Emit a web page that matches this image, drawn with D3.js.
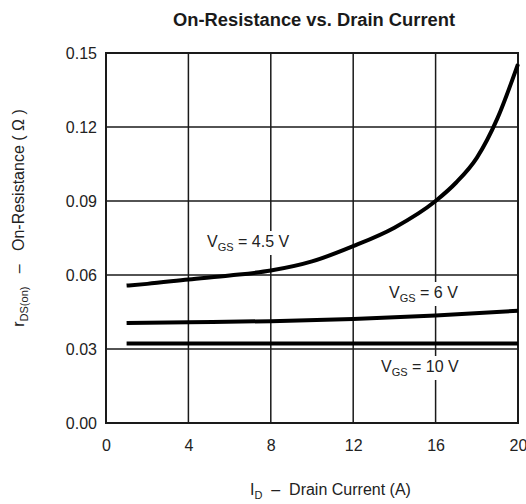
<!DOCTYPE html>
<html>
<head>
<meta charset="utf-8">
<script src="https://cdn.jsdelivr.net/npm/d3@7"></script>
<style>
  html, body { margin: 0; padding: 0; background: #fff; }
  svg { display: block; }
  text { font-family: "Liberation Sans", Arial, sans-serif; fill: #222; white-space: pre; }
</style>
</head>
<body>
<svg id="chart" width="526" height="504"></svg>
<script>
// ---- data ----
const xTicks = [0, 4, 8, 12, 16, 20];
const yTicks = [0.00, 0.03, 0.06, 0.09, 0.12, 0.15];
const xTickLabels = ["0", "4", "8", "12", "16", "20"];
const yTickLabels = ["0.00", "0.03", "0.06", "0.09", "0.12", "0.15"];

const idVgs45 = [1, 2, 4, 6, 8, 10, 12, 14, 16, 17, 18, 19, 20];
const rVgs45  = [0.0557, 0.0564, 0.0582, 0.0598, 0.0618, 0.0655, 0.0717, 0.0792, 0.0900, 0.0975, 0.1075, 0.1235, 0.1455];

const idVgs6 = [1, 4, 8, 12, 16, 20];
const rVgs6  = [0.0405, 0.0408, 0.0413, 0.0422, 0.0436, 0.0455];

const idVgs10 = [1, 4, 8, 12, 16, 20];
const rVgs10  = [0.0322, 0.0322, 0.0322, 0.0322, 0.0322, 0.0322];

const seriesNames = ["4.5 V", "6 V", "10 V"];

// ---- layout ----
const svg = d3.select("#chart");
const x = d3.scaleLinear().domain([0, 20]).range([106, 518]);
const y = d3.scaleLinear().domain([0, 0.15]).range([423, 53]);

// title
svg.append("text")
  .attr("x", 314).attr("y", 26)
  .attr("text-anchor", "middle")
  .attr("font-size", 17.5).attr("font-weight", "bold")
  .attr("textLength", 282).attr("lengthAdjust", "spacingAndGlyphs")
  .style("fill", "#1a1a1a")
  .text("On-Resistance vs. Drain Current");

// grid
const grid = svg.append("g").attr("stroke", "#1a1a1a").attr("stroke-width", 1.5);
grid.selectAll("line.v").data(xTicks).join("line")
  .attr("x1", d => x(d)).attr("x2", d => x(d))
  .attr("y1", y(0)).attr("y2", y(0.15));
grid.selectAll("line.h").data(yTicks).join("line")
  .attr("x1", x(0)).attr("x2", x(20))
  .attr("y1", d => y(d)).attr("y2", d => y(d));

// border
svg.append("rect")
  .attr("x", x(0)).attr("y", y(0.15))
  .attr("width", x(20) - x(0)).attr("height", y(0) - y(0.15))
  .attr("fill", "none").attr("stroke", "#1a1a1a").attr("stroke-width", 2);

// axes labels via d3 axes (no domain / tick lines)
const xAxis = d3.axisBottom(x).tickValues(xTicks)
  .tickFormat((d, i) => xTickLabels[i]).tickSize(0).tickPadding(0);
const gx = svg.append("g").attr("transform", `translate(0,${y(0) + 17})`).call(xAxis);
gx.select(".domain").remove();
gx.selectAll("text").attr("font-size", 16).attr("font-family", null).style("fill", "#222");

const yAxis = d3.axisLeft(y).tickValues(yTicks)
  .tickFormat((d, i) => yTickLabels[i]).tickSize(0).tickPadding(0);
const gy = svg.append("g").attr("transform", `translate(${x(0) - 9},0)`).call(yAxis);
gy.select(".domain").remove();
gy.selectAll("text").attr("font-size", 16).attr("font-family", null).style("fill", "#222");

// curves
const line = d3.line().x(d => x(d[0])).y(d => y(d[1])).curve(d3.curveMonotoneX);
const series = [
  d3.zip(idVgs45, rVgs45),
  d3.zip(idVgs6, rVgs6),
  d3.zip(idVgs10, rVgs10)
];
svg.append("g").selectAll("path").data(series).join("path")
  .attr("d", line)
  .attr("fill", "none").attr("stroke", "#000")
  .attr("stroke-width", 4).attr("stroke-linecap", "butt");

// curve labels with white backing
const labelPos = [[207, 247], [389, 298], [381, 372]];
const labelsG = svg.append("g");
seriesNames.forEach((name, i) => {
  const g = labelsG.append("g");
  const bg = g.append("rect").attr("fill", "#fff");
  const t = g.append("text")
    .attr("x", labelPos[i][0]).attr("y", labelPos[i][1])
    .attr("font-size", 16);
  t.append("tspan").text("V");
  t.append("tspan").attr("font-size", 11).attr("dy", 4).text("GS");
  t.append("tspan").attr("dy", -4).text(" = " + name);
  const b = t.node().getBBox();
  bg.attr("x", b.x - 3).attr("y", b.y - 2).attr("width", b.width + 6).attr("height", b.height + 4);
});

// x axis title
const xt = svg.append("text").attr("x", 250).attr("y", 495).attr("font-size", 16);
xt.append("tspan").text("I");
xt.append("tspan").attr("font-size", 11).attr("dy", 4).text("D");
xt.append("tspan").attr("dy", -4).text("  \u2013  Drain Current (A)");

// y axis title
const yt = svg.append("text")
  .attr("transform", "translate(24,218) rotate(-90)")
  .attr("text-anchor", "middle")
  .attr("font-size", 16);
yt.append("tspan").text("r");
yt.append("tspan").attr("font-size", 11).attr("dy", 4).text("DS(on)");
yt.append("tspan").attr("dy", -4).text("   \u2013   On-Resistance ( \u03A9 )");
</script>
</body>
</html>
